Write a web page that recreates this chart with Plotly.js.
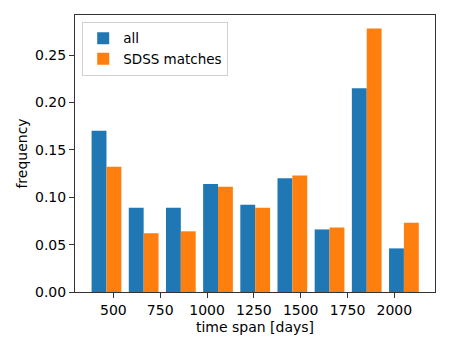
<!DOCTYPE html>
<html>
<head>
<meta charset="utf-8">
<script src="https://cdn.plot.ly/plotly-3.0.1.min.js"></script>
<style>
  html, body { margin: 0; padding: 0; background: #fff; }
  #chart { width: 450px; height: 350px; }
</style>
</head>
<body>
<div id="chart"></div>
<script>
// bin centres (days) and normalised frequencies
const binCenters = [463, 661.5, 860, 1058.5, 1257, 1455.5, 1654, 1852.5, 2051];
const freqAll = [0.170, 0.089, 0.089, 0.114, 0.092, 0.120, 0.066, 0.215, 0.046];
const freqSdss = [0.132, 0.062, 0.064, 0.111, 0.089, 0.123, 0.068, 0.278, 0.073];
const xTicks = [500, 750, 1000, 1250, 1500, 1750, 2000];
const yTicks = [0, 0.05, 0.10, 0.15, 0.20, 0.25];

const font = { family: 'DejaVu Sans, sans-serif', size: 14, color: '#000' };

const data = [
    {
        type: 'bar',
        name: 'all',
        x: binCenters,
        y: freqAll,
        marker: { color: '#1f77b4', line: { width: 0 } }
    },
    {
        type: 'bar',
        name: 'SDSS matches',
        x: binCenters,
        y: freqSdss,
        marker: { color: '#ff7f0e', line: { width: 0 } }
    }
];

const axisBase = {
    showline: true,
    linecolor: '#333',
    linewidth: 1,
    mirror: true,
    ticks: 'outside',
    ticklen: 5,
    tickwidth: 1,
    tickcolor: '#333',
    showgrid: false,
    zeroline: false,
    tickfont: font
};

const layout = {
    width: 450,
    height: 350,
    margin: { l: 75, r: 15, t: 15, b: 58 },
    paper_bgcolor: '#fff',
    plot_bgcolor: '#fff',
    font: font,
    barmode: 'group',
    bargap: 0.2,
    bargroupgap: 0,
    showlegend: true,
    legend: {
        x: 0.02,
        y: 0.975,
        xanchor: 'left',
        yanchor: 'top',
        bgcolor: 'rgba(255,255,255,0.8)',
        bordercolor: '#d0d0d0',
        borderwidth: 1,
        font: { family: font.family, size: 13.5, color: '#000' },
        itemwidth: 30,
        tracegroupgap: 0
    },
    xaxis: Object.assign({}, axisBase, {
        range: [295, 2217],
        tickvals: xTicks,
        ticktext: xTicks.map(String),
        title: { text: 'time span [days]', font: font, standoff: 5 }
    }),
    yaxis: Object.assign({}, axisBase, {
        range: [0, 0.2922],
        tickvals: yTicks,
        ticktext: yTicks.map(v => v.toFixed(2)),
        title: { text: 'frequency', font: font, standoff: 4 }
    })
};

Plotly.newPlot('chart', data, layout, { displayModeBar: false, staticPlot: true });
</script>
</body>
</html>
